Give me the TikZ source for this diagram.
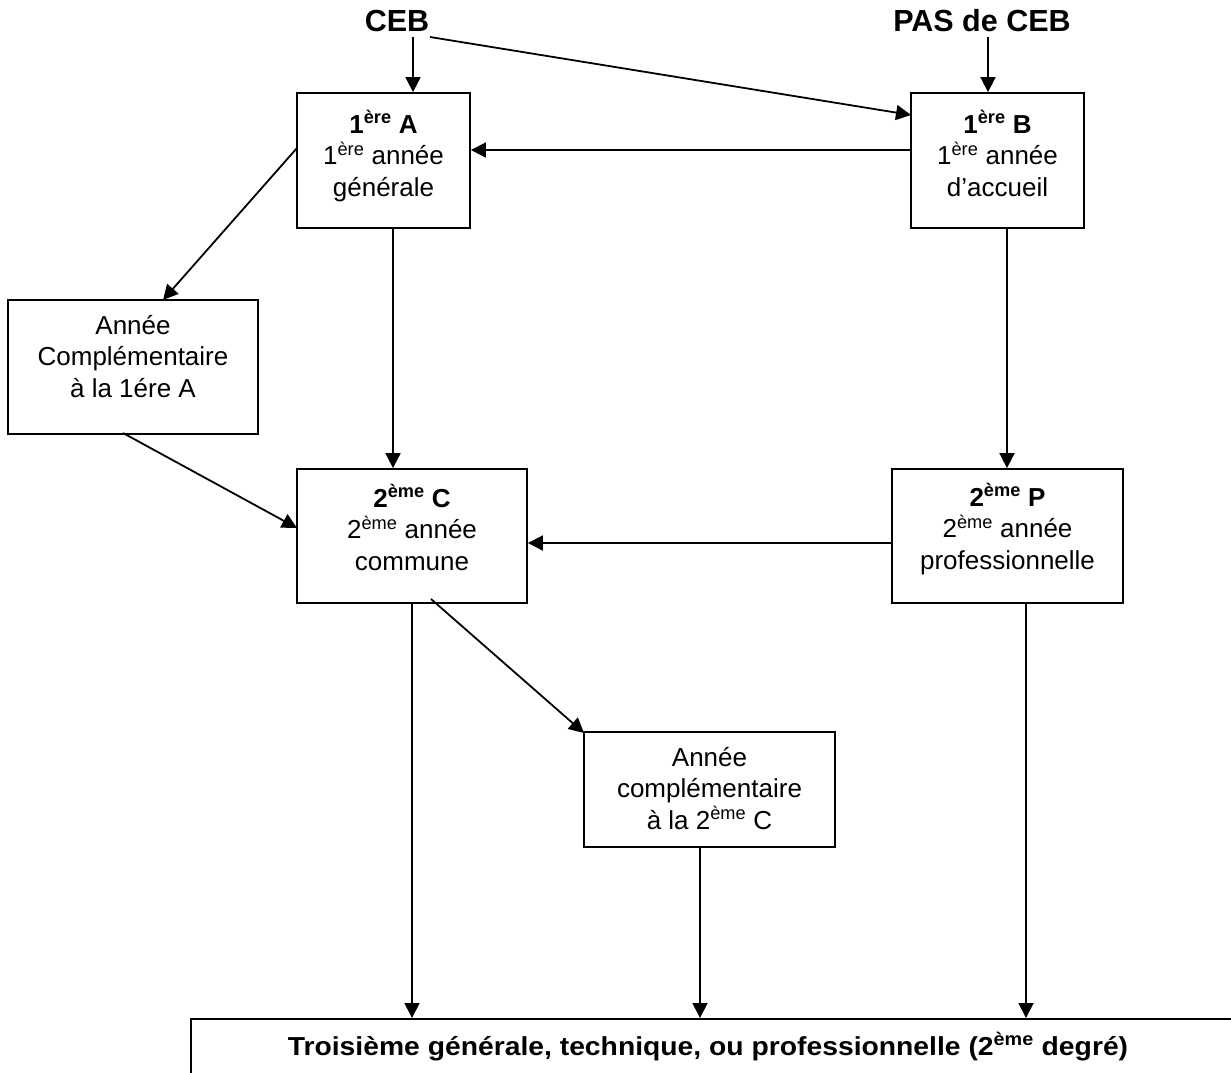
\documentclass[tikz,border=0pt]{standalone}
\usepackage{fontspec}
\usepackage{graphicx}
\setmainfont{Liberation Sans}
\usetikzlibrary{arrows.meta}
\tikzset{
  box/.style={draw, line width=1.8pt, inner sep=0pt},
  txt/.style={align=center, inner sep=0pt, font=\fontsize{26}{31.5}\selectfont},
  head/.style={inner sep=0pt, font=\fontsize{30.5}{34}\selectfont\bfseries},
  arr/.style={line width=1.8pt, -{Triangle[length=15pt,width=15pt]}},
  ln/.style={line width=1.8pt}
}
\begin{document}
\begin{tikzpicture}[x=1pt,y=-1pt]
\useasboundingbox (0,0) rectangle (1231,1072);
\clip (0,0) rectangle (1231,1072);
% headers
\node[head] (ceb) at (397,21) {CEB};
\node[head] (pas) at (982,21) {PAS de CEB};
% boxes
\node[box, minimum width=173, minimum height=135] (A) at (383.5,160.5) {};
\node[box, minimum width=173, minimum height=135] (B) at (997.5,160.5) {};
\node[box, minimum width=250, minimum height=134] (AC1) at (133,367) {};
\node[box, minimum width=230, minimum height=134] (C) at (412,536) {};
\node[box, minimum width=231, minimum height=134] (P) at (1007.5,536) {};
\node[box, minimum width=251, minimum height=115] (AC2) at (709.5,789.5) {};
\node[box, minimum width=1070, minimum height=120, anchor=north west] (T) at (190,1018) {};
% texts (anchor=base is the baseline of the last line)
\node[txt, anchor=base] (tA) at (383.5,196) {\textbf{1\textsuperscript{ère} A}\\1\textsuperscript{ère} année\\générale};
\node[txt, anchor=base] (tB) at (997.5,196) {\textbf{1\textsuperscript{ère} B}\\1\textsuperscript{ère} année\\d’accueil};
\node[txt, anchor=base] (tAC1) at (133,397) {Année\\Complémentaire\\à la 1ére A};
\node[txt, anchor=base] (tC) at (412,570) {\textbf{2\textsuperscript{ème} C}\\2\textsuperscript{ème} année\\commune};
\node[txt, anchor=base] (tP) at (1007.5,569) {\textbf{2\textsuperscript{ème} P}\\2\textsuperscript{ème} année\\professionnelle};
\node[txt, anchor=base] (tAC2) at (709.5,829) {Année\\complémentaire\\à la 2\textsuperscript{ème} C};
\node[txt, anchor=base] (tT) at (708,1055) {\scalebox{1.088}[1]{\textbf{Troisième générale, technique, ou professionnelle (2\textsuperscript{ème} degré)}}};
% coordinates
\coordinate (c1) at (413,37);
\coordinate (c2) at (988,37);
\coordinate (c3) at (430,37);
\coordinate (c4) at (911,115);
\coordinate (a1) at (297,148);
\coordinate (a2) at (163,300);
\coordinate (a3) at (123,433);
\coordinate (a4) at (297,528);
\coordinate (b1) at (1007,228);
\coordinate (d1) at (393,228);
\coordinate (e1) at (431,599);
\coordinate (e2) at (584,733);
\coordinate (f1) at (412,603);
\coordinate (g1) at (700,847);
\coordinate (h1) at (1026,603);
\coordinate (p1) at (892,543);
\coordinate (q1) at (911,150);
% connectors
\draw[arr] (c1) -- (c1 |- A.north);
\draw[arr] (c2) -- (c2 |- B.north);
\draw[arr] (c3) -- (c4);
\draw[arr] (q1) -- (q1 -| A.east);
\draw[arr] (a1) -- (a2);
\draw[arr] (d1) -- (d1 |- C.north);
\draw[arr] (a3) -- (a4);
\draw[arr] (b1) -- (b1 |- P.north);
\draw[arr] (p1) -- (p1 -| C.east);
\draw[arr] (e1) -- (e2);
\draw[arr] (f1) -- (f1 |- T.north);
\draw[arr] (g1) -- (g1 |- T.north);
\draw[arr] (h1) -- (h1 |- T.north);
\end{tikzpicture}
\end{document}
